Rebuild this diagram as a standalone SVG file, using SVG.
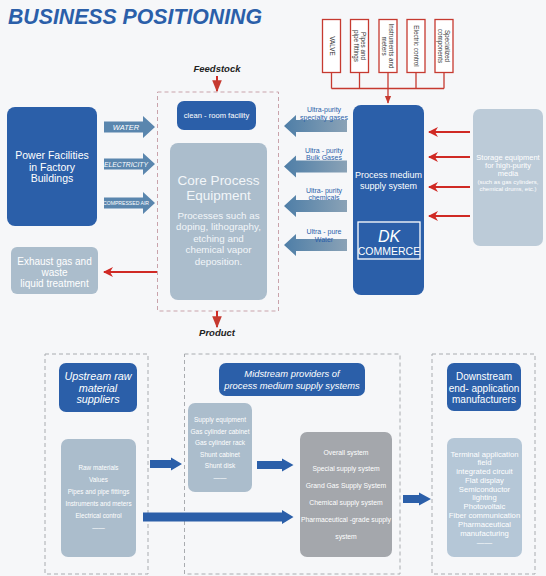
<svg xmlns="http://www.w3.org/2000/svg" width="546" height="576" viewBox="0 0 546 576">
<defs>
<style>
text{font-family:"Liberation Sans",Arial,sans-serif;}
.dk{fill:#2b5fa9;}
.lg{fill:#abbdcc;}
.w{fill:#ffffff;}
.c{text-anchor:middle;}
.it{font-style:italic;}
.rb{fill:#ffffff;stroke:#c63a30;stroke-width:1.3;}
.rl{fill:none;stroke:#c63a30;stroke-width:1.3;}
.ra{fill:none;stroke:#d02a25;stroke-width:2;}
.pd{fill:none;stroke:#c9a3ab;stroke-width:1;stroke-dasharray:4 3;}
.gd{fill:none;stroke:#a9acb0;stroke-width:1;stroke-dasharray:4 3;}
.ba{fill:#2b5fa9;}
.ga{fill:#5a86ae;}
</style>
<linearGradient id="lgr" x1="0" y1="0" x2="1" y2="0">
<stop offset="0" stop-color="#4e7ea7"/>
<stop offset="1" stop-color="#8aa2b6"/>
</linearGradient>
<marker id="rh" viewBox="0 0 10 10" refX="9" refY="5" markerWidth="5" markerHeight="5" orient="auto">
<path d="M0,0 L10,5 L0,10 L3,5 Z" fill="#d02a25"/>
</marker>
<marker id="rs" viewBox="0 0 10 10" refX="9" refY="5" markerWidth="6" markerHeight="6" orient="auto">
<path d="M0,1 L10,5 L0,9 Z" fill="#c63a30"/>
</marker>
<path id="la" d="M0,0 L12,-11 L12,-6 L63,-6 L63,6 L12,6 L12,11 Z"/>
<path id="raw" d="M0,-5.5 L39,-5.5 L39,-11 L51,0 L39,11 L39,5.5 L0,5.5 Z"/>
</defs>
<rect x="0" y="0" width="546" height="576" fill="#f6f7f9"/>
<text x="8" y="24" font-size="22" font-weight="bold" font-style="italic" fill="#2b5fa9" textLength="254" lengthAdjust="spacingAndGlyphs">BUSINESS POSITIONING</text>

<g id="components">
<rect class="rb" x="322.5" y="19.5" width="18" height="53"/>
<text class="c" font-size="6.3" fill="#333" transform="translate(331.5,46) rotate(90)"><tspan x="0" y="2">VALVE</tspan></text>
<rect class="rb" x="350.5" y="19.5" width="18" height="53"/>
<text class="c" font-size="6.3" fill="#333" transform="translate(359.5,46) rotate(90)"><tspan x="0" y="-1">Pipes and</tspan><tspan x="0" y="6">pipe fittings</tspan></text>
<rect class="rb" x="379" y="19.5" width="18" height="53"/>
<text class="c" font-size="6.3" fill="#333" transform="translate(388,46) rotate(90)"><tspan x="0" y="-1">Instruments and</tspan><tspan x="0" y="6">meters</tspan></text>
<rect class="rb" x="407" y="19.5" width="18" height="53"/>
<text class="c" font-size="6.3" fill="#333" transform="translate(416,46) rotate(90)"><tspan x="0" y="2">Electric control</tspan></text>
<rect class="rb" x="435" y="19.5" width="18" height="53"/>
<text class="c" font-size="6.3" fill="#333" transform="translate(444,46) rotate(90)"><tspan x="0" y="-1">Specialized</tspan><tspan x="0" y="6">components</tspan></text>
</g>

<g id="power">
<rect class="dk" x="7" y="107" width="90" height="119" rx="8"/>
<text class="c w" font-size="10.5" x="52" y="159">Power Facilities</text>
<text class="c w" font-size="10.5" x="52" y="170.5">in Factory</text>
<text class="c w" font-size="10.5" x="52" y="182">Buildings</text>
</g>

<g id="exhaust">
<rect class="lg" x="11" y="247" width="87" height="47" rx="6"/>
<text class="c w" font-size="10" x="54.5" y="264.5">Exhaust gas and</text>
<text class="c w" font-size="10" x="54.5" y="275.5">waste</text>
<text class="c w" font-size="10" x="54.5" y="286.5">liquid treatment</text>
</g>

<g id="fab">
<rect class="pd" x="157.5" y="92" width="121" height="219"/>
<rect class="dk" x="177" y="101" width="79" height="29" rx="7"/>
<text class="c w" font-size="7.6" x="216.5" y="118">clean - room facility</text>
<rect class="lg" x="170" y="143" width="97" height="157" rx="8"/>
<text class="c" fill="#f2f6f9" font-size="13.5" x="218.5" y="185">Core Process</text>
<text class="c" fill="#f2f6f9" font-size="13.5" x="218.5" y="200">Equipment</text>
<text class="c" fill="#f2f6f9" font-size="9.8" x="218.5" y="218.5">Processes such as</text>
<text class="c" fill="#f2f6f9" font-size="9.8" x="218.5" y="230">doping, lithography,</text>
<text class="c" fill="#f2f6f9" font-size="9.8" x="218.5" y="241.5">etching and</text>
<text class="c" fill="#f2f6f9" font-size="9.8" x="218.5" y="253">chemical vapor</text>
<text class="c" fill="#f2f6f9" font-size="9.8" x="218.5" y="264.5">deposition.</text>
<text class="c it" font-size="9.5" font-weight="bold" fill="#222" x="217" y="72">Feedstock</text>
<text class="c it" font-size="9.5" font-weight="bold" fill="#222" x="217" y="336">Product</text>
</g>

<g id="pms">
<rect class="dk" x="353" y="105" width="71" height="190" rx="8"/>
<text class="c w" font-size="9" x="388.5" y="177.5">Process medium</text>
<text class="c w" font-size="9" x="388.5" y="188.5">supply system</text>
<rect x="358" y="222" width="62" height="37" fill="none" stroke="#ffffff" stroke-width="1.3"/>
<text class="c w it" font-size="16" x="389" y="242">DK</text>
<text class="c w" font-size="10.5" x="389" y="255">COMMERCE</text>
</g>

<g id="storage">
<rect fill="#bccbd8" x="473" y="109" width="70" height="137" rx="7"/>
<text class="c w" font-size="7.5" x="508" y="160">Storage equipment</text>
<text class="c w" font-size="7.5" x="508" y="168">for high-purity</text>
<text class="c w" font-size="7.5" x="508" y="176">media</text>
<text class="c w" font-size="6" x="508" y="184">(such as gas cylinders,</text>
<text class="c w" font-size="6" x="508" y="191">chemical drums, etc.)</text>
</g>

<g id="upstream">
<rect class="gd" x="45" y="354" width="103" height="220"/>
<rect class="dk" x="59" y="363" width="78" height="49" rx="7"/>
<text class="c w it" font-size="10.8" x="98" y="380">Upstream raw</text>
<text class="c w it" font-size="10.8" x="98" y="391.5">material</text>
<text class="c w it" font-size="10.8" x="98" y="403">suppliers</text>
<rect class="lg" x="61" y="439" width="75" height="118" rx="7"/>
<text class="c w" font-size="6.3" x="98.5" y="470">Raw materials</text>
<text class="c w" font-size="6.3" x="98.5" y="482">Values</text>
<text class="c w" font-size="6.3" x="98.5" y="494">Pipes and pipe fittings</text>
<text class="c w" font-size="6.3" x="98.5" y="506">Instruments and meters</text>
<text class="c w" font-size="6.3" x="98.5" y="517.5">Electrical control</text>
<text class="c w" font-size="6.3" x="98.5" y="530">——</text>
</g>

<g id="midstream">
<rect class="gd" x="184.5" y="354" width="215.5" height="220"/>
<rect class="dk" x="219" y="363" width="146" height="33" rx="7"/>
<text class="c w it" font-size="9.4" x="292" y="377">Midstream providers of</text>
<text class="c w it" font-size="9.4" x="292" y="388.5">process medium supply systems</text>
<rect class="lg" x="188" y="403" width="64" height="89" rx="7"/>
<text class="c w" font-size="6.5" x="220" y="422">Supply equipment</text>
<text class="c w" font-size="6.5" x="220" y="433.5">Gas cylinder cabinet</text>
<text class="c w" font-size="6.5" x="220" y="445">Gas cylinder rack</text>
<text class="c w" font-size="6.5" x="220" y="456.5">Shunt cabinet</text>
<text class="c w" font-size="6.5" x="220" y="468">Shunt disk</text>
<text class="c w" font-size="6.5" x="220" y="480">——</text>
<rect fill="#a4a7ac" x="300" y="432" width="92" height="125" rx="7"/>
<text class="c w" font-size="6.8" x="346" y="454.5">Overall system</text>
<text class="c w" font-size="6.8" x="346" y="471">Special supply system</text>
<text class="c w" font-size="6.8" x="346" y="488">Grand Gas Supply System</text>
<text class="c w" font-size="6.8" x="346" y="505">Chemical supply system</text>
<text class="c w" font-size="6.8" x="346" y="522">Pharmaceutical -grade supply</text>
<text class="c w" font-size="6.8" x="346" y="539">system</text>
</g>

<g id="downstream">
<rect class="gd" x="432" y="354" width="103" height="220"/>
<rect class="dk" x="447" y="363" width="74" height="48" rx="7"/>
<text class="c w" font-size="10" x="484" y="380">Downstream</text>
<text class="c w" font-size="10" x="484" y="391.5">end- application</text>
<text class="c w" font-size="10" x="484" y="403">manufacturers</text>
<rect fill="#b5c7d7" x="447" y="438" width="75" height="119" rx="7"/>
<text class="c w" font-size="7.7" x="484.5" y="456.5">Terminal application</text>
<text class="c w" font-size="7.7" x="484.5" y="465.2">field</text>
<text class="c w" font-size="7.7" x="484.5" y="474">integrated circuit</text>
<text class="c w" font-size="7.7" x="484.5" y="482.8">Flat display</text>
<text class="c w" font-size="7.7" x="484.5" y="491.6">Semiconductor</text>
<text class="c w" font-size="7.7" x="484.5" y="500.4">lighting</text>
<text class="c w" font-size="7.7" x="484.5" y="509.2">Photovoltaic</text>
<text class="c w" font-size="7.7" x="484.5" y="518">Fiber communication</text>
<text class="c w" font-size="7.7" x="484.5" y="526.8">Pharmaceutical</text>
<text class="c w" font-size="7.7" x="484.5" y="535.6">manufacturing</text>
<text class="c w" font-size="7.7" x="484.5" y="545">——</text>
</g>

<g id="connectors">
<path class="rl" d="M331.5,72.5 V88.5 M359.5,72.5 V88.5 M416,72.5 V88.5 M444,72.5 V88.5 M331.5,88.5 H444"/>
<path class="rl" d="M388,72.5 V103" marker-end="url(#rs)"/>
<path class="ra" d="M217,76 V91" stroke-width="1" marker-end="url(#rs)"/>
<path class="ra" d="M217,311 V327" stroke-width="1" marker-end="url(#rs)"/>
<path class="ra" d="M157,272 H104" marker-end="url(#rh)"/>
<path class="ra" d="M470,132 H429" marker-end="url(#rh)"/>
<path class="ra" d="M470,157 H429" marker-end="url(#rh)"/>
<path class="ra" d="M470,187 H429" marker-end="url(#rh)"/>
<path class="ra" d="M470,216 H429" marker-end="url(#rh)"/>

<use href="#raw" class="ga" x="104" y="127"/>
<use href="#raw" class="ga" x="104" y="164"/>
<use href="#raw" class="ga" x="104" y="203"/>
<text class="c w it" font-size="7.5" x="126" y="130">WATER</text>
<text class="c w it" font-size="6.6" x="126" y="166.5" textLength="44" lengthAdjust="spacingAndGlyphs">ELECTRICITY</text>
<text class="c w" font-size="5.3" x="126" y="205" textLength="46" lengthAdjust="spacingAndGlyphs">COMPRESSED AIR</text>

<use href="#la" fill="url(#lgr)" x="284" y="126"/>
<use href="#la" fill="url(#lgr)" x="284" y="166.5"/>
<use href="#la" fill="url(#lgr)" x="284" y="206"/>
<use href="#la" fill="url(#lgr)" x="284" y="245"/>
<g fill="#2b5fa9" font-size="7">
<text class="c" x="324" y="112">Ultra-purity</text>
<text class="c" x="324" y="119.5">specialty gases</text>
<text class="c" x="324" y="152.5">Ultra - purity</text>
<text class="c" x="324" y="160">Bulk Gases</text>
<text class="c" x="324" y="192.5">Ultra- purity</text>
<text class="c" x="324" y="200">chemicals</text>
<text class="c" x="324" y="234">Ultra - pure</text>
<text class="c" x="324" y="241.5">Water</text>
</g>

<path class="ba" d="M150,460 H171 V457.5 L182,464 L171,470.5 V468 H150 Z"/>
<path class="ba" d="M143,512.5 H282 V510 L293.5,517 L282,524 V521.5 H143 Z"/>
<path class="ba" d="M257,461 H282 V458.5 L293.5,465 L282,471.5 V469 H257 Z"/>
<path class="ba" d="M403,495 H419 V492.5 L431,499 L419,505.5 V503 H403 Z"/>
</g>
</svg>
